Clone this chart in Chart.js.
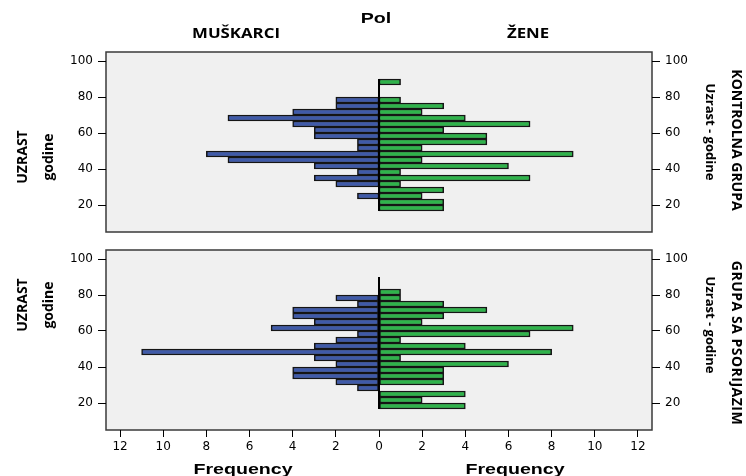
<!DOCTYPE html>
<html>
<head>
<meta charset="utf-8">
<script src="https://cdn.jsdelivr.net/npm/chart.js@4.4.1/dist/chart.umd.min.js"></script>
<style>
  body { margin: 0; background: #fff; }
  #wrap { position: relative; width: 746px; height: 476px; overflow: hidden; background: #fff; }
  canvas { position: absolute; left: 0; }
  .lbl { position: absolute; white-space: nowrap; line-height: 1; color: #000; font-weight: bold; }
  .cal { font-family: "Open Sans", sans-serif; font-size: 14px; }
  .ari { font-family: "Liberation Sans", Arial, sans-serif; font-size: 14px; }
</style>
</head>
<body>
<div id="wrap">
  <canvas id="chartTop" width="746" height="246" style="top:0"></canvas>
  <canvas id="chartBottom" width="746" height="240" style="top:236px"></canvas>

  <div class="lbl ari" style="left:376px;top:18px;transform:translate(-50%,-50%) scaleX(1.4)">Pol</div>
  <div class="lbl cal" style="left:236px;top:33px;transform:translate(-50%,-50%) scaleX(1.2)">MUŠKARCI</div>
  <div class="lbl cal" style="left:528px;top:33px;transform:translate(-50%,-50%) scaleX(1.2)">ŽENE</div>

  <div class="lbl cal" style="left:22px;top:157px;transform:translate(-50%,-50%) rotate(-90deg)">UZRAST</div>
  <div class="lbl cal" style="left:48px;top:157px;transform:translate(-50%,-50%) rotate(-90deg)">godine</div>
  <div class="lbl cal" style="left:22px;top:305px;transform:translate(-50%,-50%) rotate(-90deg)">UZRAST</div>
  <div class="lbl cal" style="left:48px;top:305px;transform:translate(-50%,-50%) rotate(-90deg)">godine</div>

  <div class="lbl cal" style="left:710px;top:132px;font-size:13px;transform:translate(-50%,-50%) rotate(90deg)">Uzrast - godine</div>
  <div class="lbl cal" style="left:737px;top:140px;transform:translate(-50%,-50%) rotate(90deg)">KONTROLNA GRUPA</div>
  <div class="lbl cal" style="left:710px;top:325px;font-size:13px;transform:translate(-50%,-50%) rotate(90deg)">Uzrast - godine</div>
  <div class="lbl cal" style="left:737px;top:343px;letter-spacing:0.5px;transform:translate(-50%,-50%) rotate(90deg)">GRUPA SA PSORIJAZIM</div>

  <div class="lbl ari" style="left:243px;top:469px;transform:translate(-50%,-50%) scaleX(1.4)">Frequency</div>
  <div class="lbl ari" style="left:515px;top:469px;transform:translate(-50%,-50%) scaleX(1.4)">Frequency</div>
</div>
<script>
// age bins (midpoints, years), top to bottom
const ageMid = [88.33, 85, 81.67, 78.33, 75, 71.67, 68.33, 65, 61.67, 58.33, 55,
                51.67, 48.33, 45, 41.67, 38.33, 35, 31.67, 28.33, 25, 21.67, 18.33];
const binHalf = 1.667;

// kontrolna grupa
const ctrlMen   = [0, 0, 0, 2, 2, 4, 7, 4, 3, 3, 1, 1, 8, 7, 3, 1, 3, 2, 0, 1, 0, 0];
const ctrlWomen = [1, 0, 0, 1, 3, 2, 4, 7, 3, 5, 5, 2, 9, 2, 6, 1, 7, 1, 3, 2, 3, 3];
// grupa sa psorijazom
const psoMen    = [0, 0, 0, 2, 1, 4, 4, 3, 5, 1, 2, 3, 11, 3, 2, 4, 4, 2, 1, 0, 0, 0];
const psoWomen  = [0, 0, 1, 1, 3, 5, 3, 2, 9, 7, 1, 4, 8, 1, 6, 3, 3, 3, 0, 4, 2, 4];

const freqTicks = [-12, -10, -8, -6, -4, -2, 0, 2, 4, 6, 8, 10, 12];
const ageTicks = [20, 40, 60, 80, 100];

const tickFont = { family: '"DejaVu Sans", sans-serif', size: 12 };

const panelBg = {
    id: 'panelBg',
    beforeDraw(chart) {
        const { ctx, chartArea: a } = chart;
        ctx.save();
        ctx.fillStyle = '#f0f0f0';
        ctx.fillRect(a.left, a.top, a.right - a.left, a.bottom - a.top);
        ctx.strokeStyle = '#3a3a3a';
        ctx.lineWidth = 1.5;
        ctx.strokeRect(a.left, a.top, a.right - a.left, a.bottom - a.top);
        ctx.restore();
    }
};

const centerLine = {
    id: 'centerLine',
    afterDatasetsDraw(chart) {
        const { ctx, scales } = chart;
        const x0 = scales.x.getPixelForValue(0);
        const yTop = scales.y.getPixelForValue(ageMid[0] + binHalf);
        const yBot = scales.y.getPixelForValue(ageMid[ageMid.length - 1] - binHalf);
        ctx.save();
        ctx.strokeStyle = '#000';
        ctx.lineWidth = 2;
        ctx.beginPath();
        ctx.moveTo(x0, yTop);
        ctx.lineTo(x0, yBot);
        ctx.stroke();
        ctx.restore();
    }
};

function toPoints(vals, sign) {
    return vals.map((v, i) => ({ x: v ? sign * v : null, y: ageMid[i] }));
}

function yAxis(position, width) {
    return {
        type: 'linear',
        position: position,
        min: 5,
        max: 105,
        offset: false,
        afterBuildTicks: s => { s.ticks = ageTicks.map(v => ({ value: v })); },
        afterFit: s => { s.width = width; },
        grid: { offset: false, drawOnChartArea: false, drawTicks: true, tickLength: 8, color: '#000', lineWidth: 1 },
        border: { display: false },
        ticks: { color: '#000', font: tickFont, padding: 5 }
    };
}

function makePanel(id, men, women, showX, pad) {
    return new Chart(document.getElementById(id), {
        type: 'bar',
        data: {
            datasets: [
                {
                    label: 'MUŠKARCI',
                    data: toPoints(men, -1),
                    backgroundColor: '#3f5aa9',
                    borderColor: '#151515',
                    borderWidth: 1.5,
                    borderSkipped: false,
                    grouped: false,
                    barPercentage: 1,
                    categoryPercentage: 1
                },
                {
                    label: 'ŽENE',
                    data: toPoints(women, 1),
                    backgroundColor: '#2fb34b',
                    borderColor: '#151515',
                    borderWidth: 1.5,
                    borderSkipped: false,
                    grouped: false,
                    barPercentage: 1,
                    categoryPercentage: 1
                }
            ]
        },
        options: {
            indexAxis: 'y',
            responsive: false,
            animation: false,
            layout: { padding: pad },
            plugins: { legend: { display: false }, tooltip: { enabled: false } },
            scales: {
                x: {
                    type: 'linear',
                    display: showX,
                    min: -12.65,
                    max: 12.65,
                    offset: false,
                    afterBuildTicks: s => { s.ticks = freqTicks.map(v => ({ value: v })); },
                    afterFit: s => { if (showX) s.height = 46; },
                    grid: { offset: false, drawOnChartArea: false, drawTicks: true, tickLength: 7, color: '#000', lineWidth: 1 },
                    border: { display: false },
                    ticks: {
                        color: '#000',
                        font: tickFont,
                        padding: 3,
                        maxRotation: 0,
                        callback: v => Math.abs(v)
                    }
                },
                y: yAxis('left', 106),
                y2: yAxis('right', 94)
            }
        },
        plugins: [panelBg, centerLine]
    });
}

makePanel('chartTop', ctrlMen, ctrlWomen, false, { top: 52, bottom: 14, left: 0, right: 0 });
makePanel('chartBottom', psoMen, psoWomen, true, { top: 14, bottom: 0, left: 0, right: 0 });
</script>
</body>
</html>
